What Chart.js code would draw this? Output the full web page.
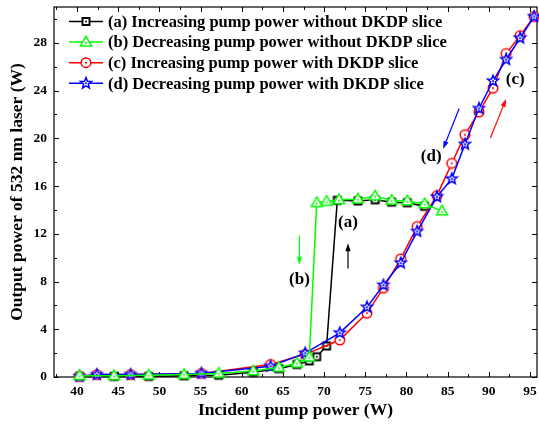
<!DOCTYPE html>
<html>
<head>
<meta charset="utf-8">
<script src="https://cdn.jsdelivr.net/npm/chart.js@4.4.0/dist/chart.umd.min.js"></script>
<style>
  html, body { margin: 0; padding: 0; background: #ffffff; }
</style>
</head>
<body>
<canvas id="laserChart" width="539" height="424"></canvas>
<script>
'use strict';
const FONT = "'Liberation Serif', 'Times New Roman', serif";

// axis ticks
const xTicks = [40, 45, 50, 55, 60, 65, 70, 75, 80, 85, 90, 95];
const yTicks = [0, 4, 8, 12, 16, 20, 24, 28];

// (a) increasing pump power without DKDP slice
const xA = [40.3, 44.5, 48.7, 53.0, 57.2, 61.4, 64.5, 66.7, 68.2, 69.1, 70.3, 71.6, 74.1, 76.2, 78.2, 80.1, 82.2];
const yA = [0.05, 0.05, 0.05, 0.1, 0.15, 0.4, 0.7, 1.05, 1.35, 1.7, 2.6, 14.8, 14.75, 14.85, 14.65, 14.6, 14.3];

// (b) decreasing pump power without DKDP slice
const xB = [84.3, 82.2, 80.1, 78.2, 76.2, 74.1, 71.8, 70.3, 69.1, 68.2, 66.7, 64.5, 61.4, 57.2, 53.0, 48.7, 44.5, 40.3];
const yB = [13.9, 14.5, 14.75, 14.8, 15.15, 14.9, 14.85, 14.7, 14.6, 1.65, 1.15, 0.8, 0.5, 0.3, 0.2, 0.15, 0.1, 0.1];

// (c) increasing pump power with DKDP slice
const xC = [40.3, 42.4, 46.5, 55.1, 63.5, 67.7, 71.9, 75.2, 77.2, 79.3, 81.3, 83.7, 85.5, 87.1, 88.8, 90.5, 92.1, 93.8, 95.5];
const yC = [0.05, 0.2, 0.2, 0.3, 1.05, 1.9, 3.1, 5.35, 7.45, 9.9, 12.6, 15.2, 17.9, 20.3, 22.2, 24.2, 27.1, 28.6, 30.2];

// (d) decreasing pump power with DKDP slice
const xD = [40.3, 42.4, 46.5, 55.1, 63.5, 67.7, 71.9, 75.2, 77.2, 79.3, 81.3, 83.7, 85.5, 87.1, 88.8, 90.5, 92.1, 93.8, 95.5];
const yD = [0.05, 0.2, 0.2, 0.3, 0.9, 2.0, 3.7, 5.85, 7.7, 9.55, 12.2, 15.1, 16.6, 19.5, 22.5, 24.8, 26.6, 28.4, 30.2];

const seriesLabels = [
    '(a) Increasing pump power without DKDP slice',
    '(b) Decreasing pump power without DKDP slice',
    '(c) Increasing pump power with DKDP slice',
    '(d) Decreasing pump power with DKDP slice'
];
const seriesColors = ['#000000', '#00ff00', '#ff0000', '#0000ff'];
const seriesMarkers = ['square', 'triangle', 'circle', 'star'];

// annotation labels and arrows (data coordinates)
const noteText = ['(a)', '(b)', '(c)', '(d)'];
const noteX = [72.9, 67.0, 93.2, 83.0];
const noteY = [12.9, 8.2, 24.95, 18.5];
const arrowFrom = [[72.9, 9.1], [67.0, 11.85], [90.2, 20.05], [86.4, 22.5]];
const arrowTo = [[72.9, 11.2], [67.0, 9.4], [92.1, 23.3], [84.45, 19.1]];

function markerPath(ctx, kind, cx, cy) {
    ctx.beginPath();
    if (kind === 'square') {
        ctx.rect(cx - 3.5, cy - 3.5, 7, 7);
    } else if (kind === 'triangle') {
        ctx.moveTo(cx, cy - 5.8);
        ctx.lineTo(cx + 5.6, cy + 3.8);
        ctx.lineTo(cx - 5.6, cy + 3.8);
        ctx.closePath();
    } else if (kind === 'circle') {
        ctx.arc(cx, cy, 4.8, 0, Math.PI * 2);
    } else {
        for (let i = 0; i < 10; i++) {
            let r = i % 2 === 0 ? 5.8 : 2.5;
            let a = -Math.PI / 2 + i * Math.PI / 5;
            let px = cx + r * Math.cos(a), py = cy + r * Math.sin(a);
            if (i === 0) ctx.moveTo(px, py); else ctx.lineTo(px, py);
        }
        ctx.closePath();
    }
}

function drawMarker(ctx, kind, color, cx, cy) {
    markerPath(ctx, kind, cx, cy);
    ctx.fillStyle = '#ffffff';
    ctx.fill();
    ctx.lineWidth = kind === 'square' ? 1.9 : 1.5;
    ctx.strokeStyle = color;
    ctx.stroke();
    ctx.beginPath();
    ctx.arc(cx, cy + (kind === 'triangle' ? 0.8 : 0), 1, 0, Math.PI * 2);
    ctx.fillStyle = color;
    ctx.fill();
}

function makeMarker(kind, color) {
    let cv = document.createElement('canvas');
    cv.width = 16;
    cv.height = 16;
    drawMarker(cv.getContext('2d'), kind, color, 8, 8);
    return cv;
}

function toPoints(xs, ys) {
    return xs.map((x, i) => ({x: x, y: ys[i]}));
}

function noPadding(scale) {
    scale.paddingTop = 0;
    scale.paddingBottom = 0;
    scale.paddingLeft = 0;
    scale.paddingRight = 0;
}

const frameAndNotes = {
    id: 'frameAndNotes',
    beforeDatasetsDraw(chart) {
        const {ctx, chartArea: a, scales: {x, y}} = chart;
        ctx.save();
        ctx.strokeStyle = '#000000';
        ctx.lineWidth = 1.2;
        ctx.strokeRect(a.left, a.top, a.right - a.left, a.bottom - a.top);
        ctx.lineWidth = 1;
        ctx.beginPath();
        for (let v = 37.5; v <= 96; v += 2.5) {
            let px = Math.round(x.getPixelForValue(v)) + 0.5;
            let len = xTicks.includes(v) ? 5 : 3;
            ctx.moveTo(px, a.bottom); ctx.lineTo(px, a.bottom - len);
            ctx.moveTo(px, a.top); ctx.lineTo(px, a.top + len);
        }
        for (let v = 0; v <= 31; v += 2) {
            let py = Math.round(y.getPixelForValue(v)) + 0.5;
            let len = yTicks.includes(v) ? 5 : 3;
            ctx.moveTo(a.left, py); ctx.lineTo(a.left + len, py);
            ctx.moveTo(a.right, py); ctx.lineTo(a.right - len, py);
        }
        ctx.stroke();
        ctx.restore();
    },
    afterDraw(chart) {
        const {ctx, scales: {x, y}} = chart;
        ctx.save();
        // legend
        ctx.font = 'bold 16.5px ' + FONT;
        ctx.textBaseline = 'middle';
        ctx.textAlign = 'left';
        seriesLabels.forEach((label, i) => {
            let ly = 21.5 + i * 20.6;
            ctx.strokeStyle = seriesColors[i];
            ctx.lineWidth = 1.5;
            ctx.beginPath();
            ctx.moveTo(69, ly);
            ctx.lineTo(103, ly);
            ctx.stroke();
            drawMarker(ctx, seriesMarkers[i], seriesColors[i], 86, ly);
            ctx.fillStyle = '#000000';
            ctx.fillText(label, 108, ly + 1);
        });
        // arrows
        arrowFrom.forEach((from, i) => {
            let x0 = x.getPixelForValue(from[0]), y0 = y.getPixelForValue(from[1]);
            let x1 = x.getPixelForValue(arrowTo[i][0]), y1 = y.getPixelForValue(arrowTo[i][1]);
            let ang = Math.atan2(y1 - y0, x1 - x0);
            ctx.strokeStyle = seriesColors[i];
            ctx.fillStyle = seriesColors[i];
            ctx.lineWidth = 1.2;
            ctx.beginPath();
            ctx.moveTo(x0, y0);
            ctx.lineTo(x1 - 4 * Math.cos(ang), y1 - 4 * Math.sin(ang));
            ctx.stroke();
            ctx.beginPath();
            ctx.moveTo(x1, y1);
            ctx.lineTo(x1 - 8 * Math.cos(ang) + 2.6 * Math.sin(ang), y1 - 8 * Math.sin(ang) - 2.6 * Math.cos(ang));
            ctx.lineTo(x1 - 8 * Math.cos(ang) - 2.6 * Math.sin(ang), y1 - 8 * Math.sin(ang) + 2.6 * Math.cos(ang));
            ctx.closePath();
            ctx.fill();
        });
        // labels
        ctx.font = 'bold 17px ' + FONT;
        ctx.textAlign = 'center';
        ctx.fillStyle = '#000000';
        noteText.forEach((t, i) => {
            ctx.fillText(t, x.getPixelForValue(noteX[i]), y.getPixelForValue(noteY[i]));
        });
        ctx.restore();
    }
};

const datasetInfo = [
    {data: toPoints(xA, yA), order: 3},
    {data: toPoints(xB, yB), order: 0},
    {data: toPoints(xC, yC), order: 2},
    {data: toPoints(xD, yD), order: 1}
];

const ctxLaser = document.getElementById('laserChart').getContext('2d');
const laserChart = new Chart(ctxLaser, {
    type: 'scatter',
    data: {
        datasets: datasetInfo.map((d, i) => ({
            label: seriesLabels[i],
            data: d.data,
            order: d.order,
            showLine: true,
            borderColor: seriesColors[i],
            backgroundColor: seriesColors[i],
            borderWidth: 1.5,
            pointStyle: makeMarker(seriesMarkers[i], seriesColors[i]),
            pointRadius: 5,
            clip: false
        }))
    },
    options: {
        responsive: false,
        animation: false,
        devicePixelRatio: 1,
        layout: {
            autoPadding: false,
            padding: {top: 7, right: 2, left: 0, bottom: 0}
        },
        scales: {
            x: {
                type: 'linear',
                min: 37.2,
                max: 95.85,
                afterBuildTicks: scale => { scale.ticks = xTicks.map(v => ({value: v})); },
                afterFit: scale => { scale.height = 47; noPadding(scale); },
                grid: {display: false, drawTicks: false},
                border: {display: false},
                ticks: {
                    color: '#000000',
                    padding: 6,
                    autoSkip: false,
                    maxRotation: 0,
                    font: {family: FONT, weight: 'bold', size: 13.5}
                },
                title: {
                    display: true,
                    text: 'Incident pump power (W)',
                    color: '#000000',
                    padding: {top: 0, bottom: 3},
                    font: {family: FONT, weight: 'bold', size: 17.5}
                }
            },
            y: {
                min: 0,
                max: 31,
                afterBuildTicks: scale => { scale.ticks = yTicks.map(v => ({value: v})); },
                afterFit: scale => { scale.width = 54; noPadding(scale); },
                grid: {display: false, drawTicks: false},
                border: {display: false},
                ticks: {
                    color: '#000000',
                    padding: 7,
                    font: {family: FONT, weight: 'bold', size: 13.5}
                },
                title: {
                    display: true,
                    text: 'Output power of 532 nm laser (W)',
                    color: '#000000',
                    padding: {top: 7, bottom: 0},
                    font: {family: FONT, weight: 'bold', size: 17.5}
                }
            }
        },
        plugins: {
            legend: {display: false},
            tooltip: {enabled: false}
        }
    },
    plugins: [frameAndNotes]
});
</script>
</body>
</html>
